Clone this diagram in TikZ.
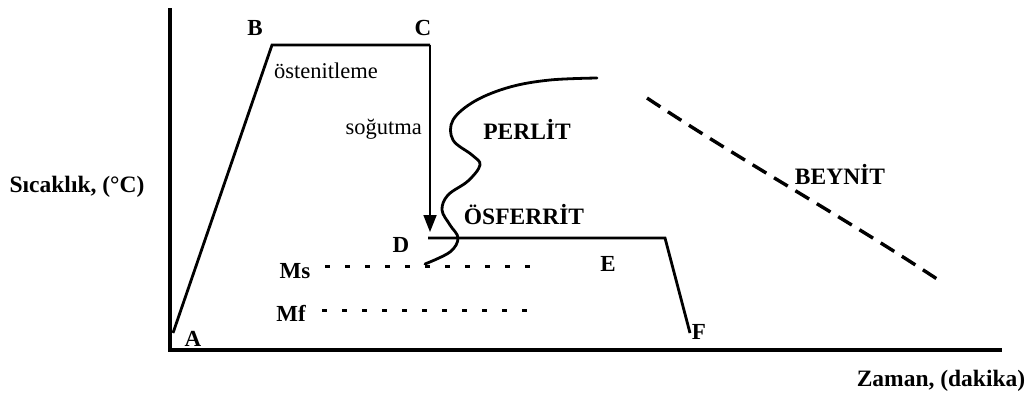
\documentclass[tikz,border=0pt]{standalone}
\usepackage{fontspec}
\setmainfont{Liberation Serif}
\usetikzlibrary{arrows.meta}
\begin{document}
\begin{tikzpicture}[x=1pt,y=-1pt,
  harf/.style={font=\bfseries\fontsize{23}{23}\selectfont, inner sep=0pt},
  eksen/.style={font=\bfseries\fontsize{23.5}{23.5}\selectfont, inner sep=0pt},
  faz/.style={font=\bfseries\fontsize{23.5}{23.5}\selectfont, inner sep=0pt},
  yazi/.style={font=\fontsize{22.5}{22.5}\selectfont, inner sep=0pt},
  egri/.style={line width=2.8pt, line join=miter},
  nokta/.style={line width=3pt, dash pattern=on 5pt off 15pt}]
  \useasboundingbox (0,0) rectangle (1035,399);

  % Eksenler
  \coordinate (Ytop) at (170,8);
  \coordinate (O) at (170,350);
  \coordinate (Xend) at (1002,350);
  \draw[line width=4.5pt] (Ytop) -- (O) -- (Xend);
  \node[eksen] (sicaklik) at (77,187) {Sıcaklık, (°C)};
  \node[eksen] (zaman) at (941,381) {Zaman, (dakika)};

  % Isil islem yolu
  \coordinate (A) at (173,333);
  \coordinate (B) at (272,45);
  \coordinate (C) at (430,45);
  \coordinate (D) at (428,238);
  \coordinate (E) at (665,238);
  \coordinate (F) at (690,333);
  \coordinate (Dtip) at (430,232);
  \draw[egri] (A) -- (B) -- (C);
  \draw[egri] (D) -- (E) -- (F);
  \draw[line width=1.8pt, -{Triangle[length=17pt,width=13pt]}] (C) -- (Dtip);

  % Noktalar
  \node[harf] (lA) at (193,339) {A};
  \node[harf] (lB) at (255,28) {B};
  \node[harf] (lC) at (423,28) {C};
  \node[harf] (lD) at (401,245) {D};
  \node[harf] (lE) at (608,264) {E};
  \node[harf] (lF) at (699,332) {F};

  % Ms ve Mf
  \node[harf] (Ms) at (295,271) {Ms};
  \node[harf] (Mf) at (291,313) {Mf};
  \coordinate (Ms1) at (325,266);
  \coordinate (Ms2) at (530,266);
  \coordinate (Mf1) at (322,310);
  \coordinate (Mf2) at (530,310);
  \draw[nokta] (Ms1) -- (Ms2);
  \draw[nokta] (Mf1) -- (Mf2);

  % Yazilar
  \node[yazi, anchor=west] (osten) at (274,71) {östenitleme};
  \node[yazi, anchor=east] (sogut) at (422,129) {soğutma};
  \node[faz] (perlit) at (527,129) {PERLİT};
  \node[faz] (osferrit) at (524,215) {ÖSFERRİT};
  \node[faz] (beynit) at (840,174) {BEYNİT};

  % Donusum egrisi
  \draw[egri, line cap=round] plot[smooth, tension=0.6] coordinates {
    (597,78) (550,80) (510,87) (475,101) (453,120) (453,140)
    (472,155) (480,165) (468,181) (448,195) (442,210) (450,225)
    (458,238) (450,252) (425,264)};

  % Beynit sinir cizgisi
  \coordinate (Bey1) at (647,98);
  \coordinate (Bey2) at (937,279);
  \draw[line width=3.4pt, dash pattern=on 16pt off 9pt]
    (Bey1) .. controls (740,160) and (840,215) .. (Bey2);
\end{tikzpicture}
\end{document}
